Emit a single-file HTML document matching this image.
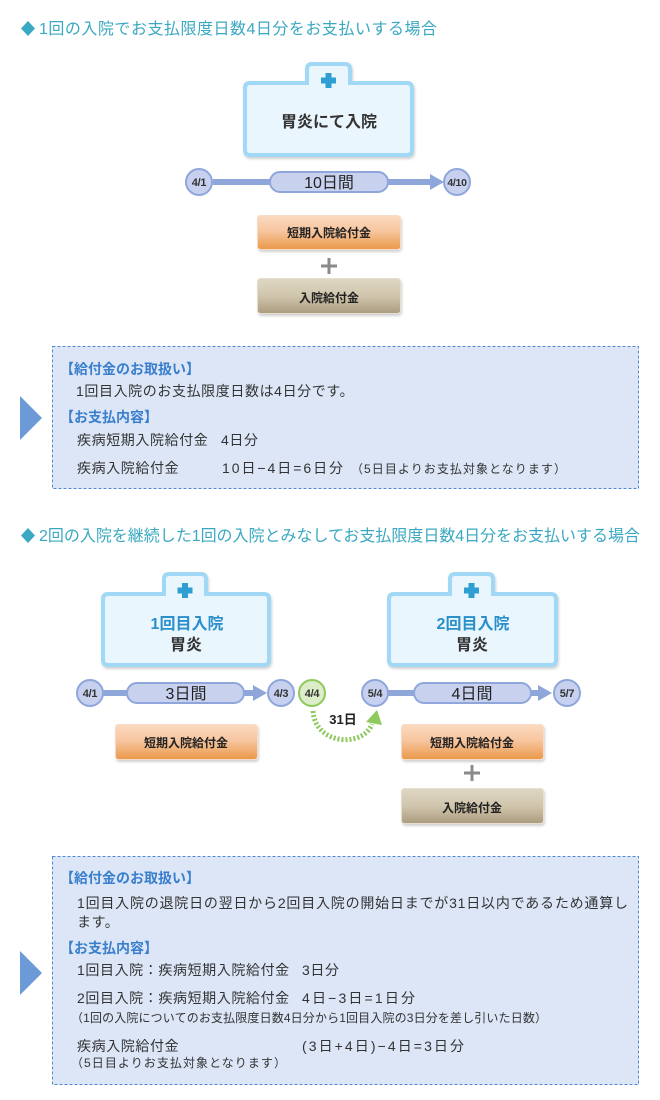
<!DOCTYPE html>
<html><head><meta charset="utf-8">
<style>
html,body{margin:0;padding:0;background:#fff;}
svg{display:block;}
text{font-family:"Liberation Sans","Noto Sans CJK JP",sans-serif;}
.t{font-size:16px;fill:#3aa8c2;}
.b{font-size:14px;fill:#333;letter-spacing:0.6px;}
.h{font-size:14px;font-weight:bold;fill:#3a7fcb;}
.s{font-size:12px;fill:#333;}
.c{font-size:11px;font-weight:bold;fill:#333;text-anchor:middle;letter-spacing:-0.3px;}
.p{font-size:16px;fill:#222;text-anchor:middle;}
.l{font-size:12px;font-weight:bold;fill:#222;text-anchor:middle;}
.hb{font-size:16px;font-weight:bold;fill:#333;text-anchor:middle;}
</style></head>
<body>
<svg width="660" height="1100" viewBox="0 0 660 1100" xmlns="http://www.w3.org/2000/svg">
<defs>
<linearGradient id="og" x1="0" y1="0" x2="0" y2="1">
<stop offset="0" stop-color="#fbdac0"/><stop offset="0.45" stop-color="#f7c6a0"/><stop offset="1" stop-color="#ea9849"/>
</linearGradient>
<linearGradient id="tg" x1="0" y1="0" x2="0" y2="1">
<stop offset="0" stop-color="#dfd7c4"/><stop offset="0.5" stop-color="#d0c5ac"/><stop offset="1" stop-color="#ab9c7f"/>
</linearGradient>
<filter id="sh" x="-10%" y="-10%" width="130%" height="150%">
<feDropShadow dx="1" dy="2" stdDeviation="1.2" flood-color="#000" flood-opacity="0.18"/>
</filter>
</defs>

<!-- Title 1 -->
<polygon points="28,21 35,28.5 28,36 21,28.5" fill="#3aa8c2"/>
<text class="t" x="39" y="34" textLength="398" lengthAdjust="spacing">1回の入院でお支払限度日数4日分をお支払いする場合</text>

<!-- Hospital 1 -->
<path filter="url(#sh)" d="M 250,83 H 307 V 69 Q 307,64 312,64 H 345 Q 350,64 350,69 V 83 H 407 Q 412,83 412,88 V 150 Q 412,155 407,155 H 250 Q 245,155 245,150 V 88 Q 245,83 250,83 Z" fill="#eaf6fd" stroke="#a0d8f5" stroke-width="4"/>
<rect x="325.5" y="73" width="6" height="15" fill="#2f9fd3"/>
<rect x="321" y="77.5" width="15" height="6" fill="#2f9fd3"/>
<text class="hb" x="329" y="127">胃炎にて入院</text>

<!-- Timeline 1 -->
<line x1="213" y1="182" x2="432" y2="182" stroke="#8ea6da" stroke-width="6"/>
<polygon points="430,174 444,182 430,190" fill="#8ea6da"/>
<rect x="270" y="172" width="118" height="20" rx="10" fill="#c8d2ef" stroke="#8ea6da" stroke-width="2"/>
<text class="p" x="329" y="188">10日間</text>
<circle cx="199" cy="182" r="13" fill="#c7d1ef" stroke="#8ea6da" stroke-width="2"/>
<text class="c" x="199" y="186">4/1</text>
<circle cx="457" cy="182" r="13" fill="#c7d1ef" stroke="#8ea6da" stroke-width="2"/>
<text class="c" x="457" y="186" style="font-size:10.5px">4/10</text>

<!-- Benefit boxes 1 -->
<rect filter="url(#sh)" x="257.5" y="215.5" width="143" height="34" rx="3" fill="url(#og)" stroke="#f6dcc6" stroke-width="1"/>
<text class="l" x="329" y="237">短期入院給付金</text>
<rect x="327.5" y="258" width="3" height="16" fill="#8a8a8a"/>
<rect x="321" y="264.5" width="16" height="3" fill="#8a8a8a"/>
<rect filter="url(#sh)" x="257.5" y="278.5" width="143" height="35" rx="3" fill="url(#tg)" stroke="#e6dfcf" stroke-width="1"/>
<text class="l" x="329" y="302">入院給付金</text>

<!-- Info box 1 -->
<rect x="52.5" y="346.5" width="586" height="142" fill="#dce6f7" stroke="#4f89d0" stroke-width="1" stroke-dasharray="3 2"/>
<polygon points="20,396 42,418 20,440" fill="#6b9ad7"/>
<text class="h" x="60" y="374">【給付金のお取扱い】</text>
<text class="b" x="76" y="396">1回目入院のお支払限度日数は4日分です。</text>
<text class="h" x="60" y="422">【お支払内容】</text>
<text class="b" x="77" y="445">疾病短期入院給付金</text>
<text class="b" x="221" y="445">4日分</text>
<text class="b" x="77" y="473">疾病入院給付金</text>
<text class="b" x="222" y="473" textLength="121" lengthAdjust="spacing" style="letter-spacing:0">10日−4日=6日分</text>
<text class="s" x="351" y="473" textLength="215" lengthAdjust="spacing">（5日目よりお支払対象となります）</text>

<!-- Title 2 -->
<polygon points="28,528 35,535.5 28,543 21,535.5" fill="#3aa8c2"/>
<text class="t" x="39" y="541" textLength="601" lengthAdjust="spacing">2回の入院を継続した1回の入院とみなしてお支払限度日数4日分をお支払いする場合</text>

<!-- Hospital A -->
<path filter="url(#sh)" d="M 108,594 H 164 V 579 Q 164,574 169,574 H 201 Q 206,574 206,579 V 594 H 264 Q 269,594 269,599 V 660 Q 269,665 264,665 H 108 Q 103,665 103,660 V 599 Q 103,594 108,594 Z" fill="#eaf6fd" stroke="#a0d8f5" stroke-width="4"/>
<rect x="182" y="583" width="6" height="15" fill="#2f9fd3"/>
<rect x="177.5" y="587.5" width="15" height="6" fill="#2f9fd3"/>
<text class="hb" x="187" y="629" style="fill:#2b8fca">1回目入院</text>
<text class="hb" x="186" y="650">胃炎</text>

<!-- Hospital B -->
<path filter="url(#sh)" d="M 394,594 H 450 V 579 Q 450,574 455,574 H 488 Q 493,574 493,579 V 594 H 551 Q 556,594 556,599 V 660 Q 556,665 551,665 H 394 Q 389,665 389,660 V 599 Q 389,594 394,594 Z" fill="#eaf6fd" stroke="#a0d8f5" stroke-width="4"/>
<rect x="468.5" y="583" width="6" height="15" fill="#2f9fd3"/>
<rect x="464" y="587.5" width="15" height="6" fill="#2f9fd3"/>
<text class="hb" x="473" y="629" style="fill:#2b8fca">2回目入院</text>
<text class="hb" x="472" y="650">胃炎</text>

<!-- Timeline A -->
<line x1="90" y1="693" x2="255" y2="693" stroke="#8ea6da" stroke-width="6"/>
<polygon points="253,685 267,693 253,701" fill="#8ea6da"/>
<rect x="127" y="683" width="117" height="20" rx="10" fill="#c8d2ef" stroke="#8ea6da" stroke-width="2"/>
<text class="p" x="186" y="699">3日間</text>
<circle cx="90" cy="693" r="13" fill="#c7d1ef" stroke="#8ea6da" stroke-width="2"/>
<text class="c" x="90" y="697">4/1</text>
<circle cx="281" cy="693" r="13" fill="#c7d1ef" stroke="#8ea6da" stroke-width="2"/>
<text class="c" x="281" y="697">4/3</text>
<circle cx="312" cy="693" r="13" fill="#dcedc9" stroke="#8dc95c" stroke-width="2"/>
<text class="c" x="312" y="697">4/4</text>

<!-- Timeline B -->
<line x1="375" y1="693" x2="540" y2="693" stroke="#8ea6da" stroke-width="6"/>
<polygon points="538,685 552,693 538,701" fill="#8ea6da"/>
<rect x="414" y="683" width="117" height="20" rx="10" fill="#c8d2ef" stroke="#8ea6da" stroke-width="2"/>
<text class="p" x="472" y="699">4日間</text>
<circle cx="375" cy="693" r="13" fill="#c7d1ef" stroke="#8ea6da" stroke-width="2"/>
<text class="c" x="375" y="697">5/4</text>
<circle cx="567" cy="693" r="13" fill="#c7d1ef" stroke="#8ea6da" stroke-width="2"/>
<text class="c" x="567" y="697">5/7</text>

<!-- Green dashed connector -->
<path d="M 313,711 C 315,745 363,748 372,724" fill="none" stroke="#8dc95c" stroke-width="5" stroke-dasharray="2 2"/>
<polygon points="377,710 366,722 382,725" fill="#8dc95c"/>
<text x="343" y="724" style="font-size:13px;font-weight:bold;fill:#222;text-anchor:middle;">31日</text>

<!-- Benefit boxes A/B -->
<rect filter="url(#sh)" x="115.5" y="724.5" width="142" height="35" rx="3" fill="url(#og)" stroke="#f6dcc6" stroke-width="1"/>
<text class="l" x="186" y="747">短期入院給付金</text>
<rect filter="url(#sh)" x="401.5" y="724.5" width="142" height="35" rx="3" fill="url(#og)" stroke="#f6dcc6" stroke-width="1"/>
<text class="l" x="472" y="747">短期入院給付金</text>
<rect x="470.5" y="765" width="3" height="16" fill="#8a8a8a"/>
<rect x="464" y="771.5" width="16" height="3" fill="#8a8a8a"/>
<rect filter="url(#sh)" x="401.5" y="788.5" width="142" height="35" rx="3" fill="url(#tg)" stroke="#e6dfcf" stroke-width="1"/>
<text class="l" x="472" y="812">入院給付金</text>

<!-- Info box 2 -->
<rect x="52.5" y="856.5" width="586" height="228" fill="#dce6f7" stroke="#4f89d0" stroke-width="1" stroke-dasharray="3 2"/>
<polygon points="20,951 42,973 20,995" fill="#6b9ad7"/>
<text class="h" x="60" y="883">【給付金のお取扱い】</text>
<text class="b" x="77" y="908" textLength="551" lengthAdjust="spacing" style="letter-spacing:0">1回目入院の退院日の翌日から2回目入院の開始日までが31日以内であるため通算し</text>
<text class="b" x="77" y="927">ます。</text>
<text class="h" x="60" y="953">【お支払内容】</text>
<text class="b" x="77" y="975">1回目入院：疾病短期入院給付金</text>
<text class="b" x="302" y="975">3日分</text>
<text class="b" x="77" y="1003">2回目入院：疾病短期入院給付金</text>
<text class="b" x="302" y="1003" textLength="113" lengthAdjust="spacing" style="letter-spacing:0">4日−3日=1日分</text>
<text class="s" x="71" y="1022" textLength="476" lengthAdjust="spacing">（1回の入院についてのお支払限度日数4日分から1回目入院の3日分を差し引いた日数）</text>
<text class="b" x="77" y="1051">疾病入院給付金</text>
<text class="b" x="302" y="1051" textLength="162" lengthAdjust="spacing" style="letter-spacing:0">(3日+4日)−4日=3日分</text>
<text class="s" x="71" y="1067" textLength="215" lengthAdjust="spacing">（5日目よりお支払対象となります）</text>
</svg>
</body></html>
